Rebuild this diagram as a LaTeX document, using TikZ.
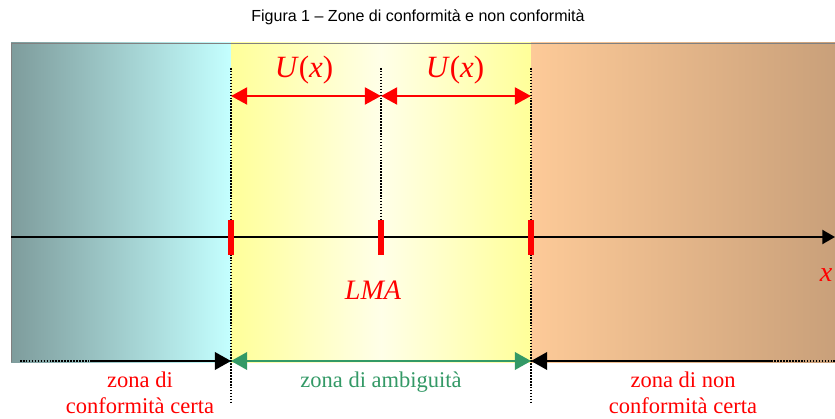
\documentclass[tikz,border=0pt]{standalone}
\usepackage{fontspec}
\setmainfont{Liberation Serif}
\newfontfamily\titlefont{Liberation Sans}
\usetikzlibrary{arrows.meta,positioning}
\definecolor{tealgray}{HTML}{7E9C9C}
\definecolor{lightcyan}{HTML}{C4FFFF}
\definecolor{zoneyellow}{HTML}{FFFF99}
\definecolor{paleyellow}{HTML}{FFFFE8}
\definecolor{peach}{HTML}{FDCA98}
\definecolor{tan}{HTML}{C9A07A}
\definecolor{ambgreen}{HTML}{339966}

\begin{document}
\begin{tikzpicture}[x=0.025cm,y=-0.025cm,
  tick/.style={red,line width=4.5pt},
  guide/.style={densely dotted,line width=1.1pt},
  uarrow/.style={red,line width=2pt,{Triangle[length=11.5pt,width=12pt]}-{Triangle[length=11.5pt,width=12pt]}},
  zonelbl/.style={red,font=\fontsize{16}{18.5}\selectfont,align=center,inner sep=1pt},
  bigtip/.style={-{Triangle[length=11.5pt,width=12.5pt]}}]
  \useasboundingbox (0,0) rectangle (835,419);
  % background zones
  \shade[left color=tealgray,right color=lightcyan] (11,43) rectangle (231,362);
  \shade[left color=zoneyellow,right color=zoneyellow,middle color=paleyellow] (231,43) rectangle (531,362);
  \shade[left color=peach,right color=tan] (531,43) rectangle (835,362);
  \draw[gray,line width=0.4pt] (11,362) -- (11,43) -- (835,43);
  \node[font=\titlefont\fontsize{11.4}{14}\selectfont] (title) at (418,17) {Figura 1 – Zone di conformità e non conformità};
  % tick positions
  \coordinate (A) at (231,237);
  \coordinate (L) at (381,237);
  \coordinate (B) at (531,237);
  % dotted guides
  \draw[guide] (231,68) -- (231,404);
  \draw[guide] (381,68) -- (381,220);
  \draw[guide] (531,68) -- (531,404);
  % axis
  \coordinate (x0) at (11,237);
  \coordinate (x1) at (835,237);
  \draw[line width=1.3pt,-{Triangle[length=9pt,width=10pt]}] (x0) -- (x1);
  \node[red,font=\fontsize{20}{24}\selectfont\itshape] (xl) at (826,275) {x};
  \foreach \p in {A,L,B}
    \draw[tick] ([yshift=-0.45cm]\p) -- ([yshift=0.43cm]\p);
  \node[red,font=\fontsize{20}{24}\selectfont\itshape] (lma) at (373,290) {LMA};
  % U(x) arrows
  \coordinate (ua) at (231,96);
  \coordinate (ul) at (381,96);
  \coordinate (ub) at (531,96);
  \draw[uarrow] (ua) -- (ul);
  \draw[uarrow] (ul) -- (ub);
  \node[red,font=\fontsize{22}{26}\selectfont] (u1) at (304,70) {\textit{U}(\textit{x})};
  \node[red,font=\fontsize{22}{26}\selectfont] (u2) at (455,70) {\textit{U}(\textit{x})};
  % bottom zone arrows
  \coordinate (za) at (231,361);
  \coordinate (zb) at (531,361);
  \coordinate (zl0) at (20,361);
  \coordinate (zl1) at (90,361);
  \coordinate (zr0) at (835,361);
  \coordinate (zr1) at (770,361);
  \draw[line width=1.1pt,densely dotted] (zl0) -- (zl1);
  \draw[line width=1.5pt,bigtip] (zl1) -- (za);
  \draw[line width=1.1pt,densely dotted] (zr0) -- (zr1);
  \draw[line width=1.5pt,bigtip] (zr1) -- (zb);
  \draw[ambgreen,line width=1.5pt,{Triangle[length=11.5pt,width=12.5pt]}-{Triangle[length=11.5pt,width=12.5pt]}] (za) -- (zb);
  \node[zonelbl] (zc) at (140,393) {zona di\\conformità certa};
  \node[zonelbl,ambgreen] (zm) at (381,382) {zona di ambiguità};
  \node[zonelbl] (zn) at (683,393) {zona di non\\conformità certa};
\end{tikzpicture}
\end{document}
